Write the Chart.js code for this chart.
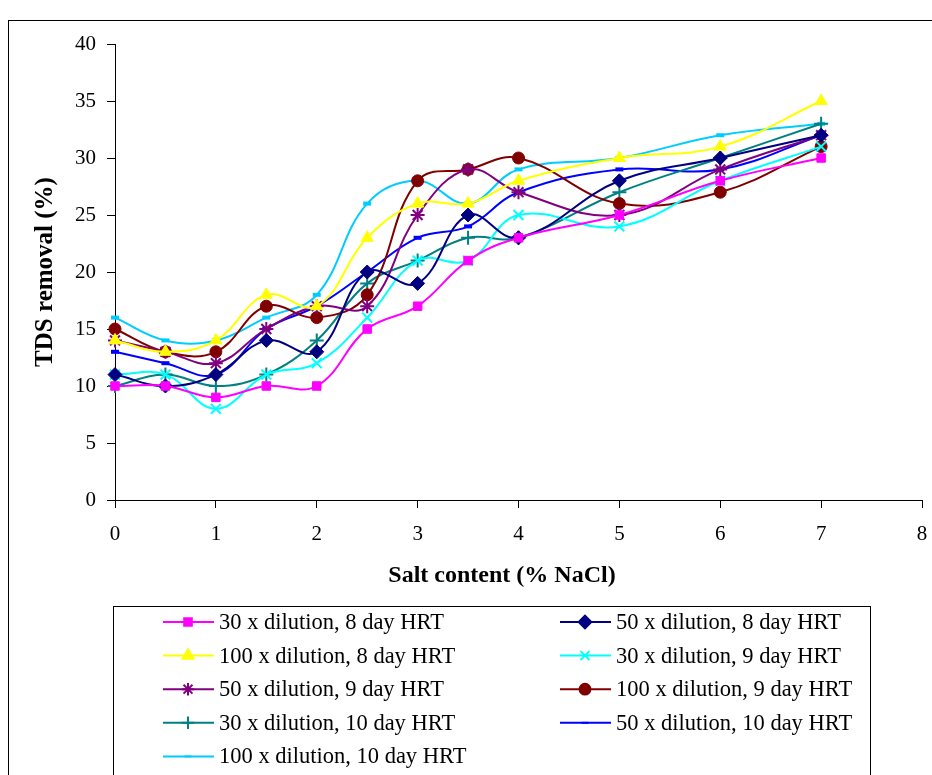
<!DOCTYPE html>
<html>
<head>
<meta charset="utf-8">
<script src="https://cdn.jsdelivr.net/npm/chart.js@4"></script>
<style>
  body { margin: 0; background: #fff; }
  #wrap { width: 932px; height: 775px; position: relative; }
</style>
</head>
<body>
<div id="wrap"><canvas id="tdsChart"></canvas></div>
<script>
// salt content (% NaCl)
var saltContent = [0, 0.5, 1, 1.5, 2, 2.5, 3, 3.5, 4, 5, 6, 7];

// TDS removal (%)
var d30_8 = [10, 10, 9, 10, 10, 15, 17, 21, 23, 25, 28, 30];
var d50_8 = [11, 10, 11, 14, 13, 20, 19, 25, 23, 28, 30, 32];
var d100_8 = [14, 13, 14, 18, 17, 23, 26, 26, 28, 30, 31, 35];
var d30_9 = [11, 11, 8, 11, 12, 16, 21, 21, 25, 24, 28, 31];
var d50_9 = [14, 13, 12, 15, 17, 17, 25, 29, 27, 25, 29, 32];
var d100_9 = [15, 13, 13, 17, 16, 18, 28, 29, 30, 26, 27, 31];
var d30_10 = [10, 11, 10, 11, 14, 19, 21, 23, 23, 27, 30, 33];
var d50_10 = [13, 12, 11, 15, 17, 20, 23, 24, 27, 29, 29, 32];
var d100_10 = [16, 14, 14, 16, 18, 26, 28, 26, 29, 30, 32, 33];

var seriesNames = [
    '30 x dilution, 8 day HRT', '50 x dilution, 8 day HRT',
    '100 x dilution, 8 day HRT', '30 x dilution, 9 day HRT',
    '50 x dilution, 9 day HRT', '100 x dilution, 9 day HRT',
    '30 x dilution, 10 day HRT', '50 x dilution, 10 day HRT',
    '100 x dilution, 10 day HRT'
];
var yTicks = [0, 5, 10, 15, 20, 25, 30, 35, 40];
var xTicks = [0, 1, 2, 3, 4, 5, 6, 7, 8];

var allSeries = [d30_8, d50_8, d100_8, d30_9, d50_9, d100_9, d30_10, d50_10, d100_10];
var colors = ['#FF00FF', '#000080', '#FFFF00', '#00FFFF', '#800080', '#800000', '#008080', '#0000FF', '#00CCFF'];
var styles = ['rect', 'rectRot', 'triangle', 'crossRot', 'star', 'circle', 'cross', 'line', 'line'];
var radii = [6, 7, 7, 7, 7, 6, 7, 4, 4];
var pointBorder = [1, 1, 1, 2, 2, 1, 2, 4, 4];

var serif = '"Liberation Serif", "Times New Roman", serif';

function toPoints(arr) {
    var pts = [];
    for (var i = 0; i < arr.length; i++) {
        pts.push({ x: saltContent[i], y: arr[i] });
    }
    return pts;
}

var datasets = [];
for (var i = 0; i < allSeries.length; i++) {
    datasets.push({
        label: seriesNames[i],
        data: toPoints(allSeries[i]),
        borderColor: colors[i],
        backgroundColor: colors[i],
        borderWidth: 2,
        tension: 0.4,
        pointStyle: styles[i],
        pointRadius: radii[i],
        pointBorderWidth: pointBorder[i],
        pointBorderColor: colors[i],
        pointBackgroundColor: colors[i],
        clip: false
    });
}

// outer frame + x axis title
var framePlugin = {
    id: 'frame',
    beforeDraw: function (chart) {
        var ctx = chart.ctx;
        ctx.save();
        ctx.strokeStyle = '#000';
        ctx.lineWidth = 1;
        ctx.strokeRect(8.5, 20.5, 940, 800);
        ctx.restore();
    },
    afterDraw: function (chart) {
        var ctx = chart.ctx;
        ctx.save();
        ctx.fillStyle = '#000';
        ctx.font = 'bold 24px ' + serif;
        ctx.textAlign = 'center';
        ctx.textBaseline = 'middle';
        ctx.fillText('Salt content (% NaCl)', 502, 576);
        ctx.restore();
    }
};

// two column legend in a box under the chart
var legendBox = {
    id: 'legendBox',
    afterDraw: function (chart) {
        var ctx = chart.ctx;
        ctx.save();
        ctx.strokeStyle = '#000';
        ctx.lineWidth = 1;
        ctx.strokeRect(113.5, 606.5, 757, 200);
        ctx.font = '22.5px ' + serif;
        ctx.textBaseline = 'middle';
        chart.data.datasets.forEach(function (ds, i) {
            var col = i % 2;
            var row = Math.floor(i / 2);
            var x0 = col === 0 ? 163 : 560;
            var y = 622 + row * 33.6;
            ctx.strokeStyle = ds.borderColor;
            ctx.fillStyle = ds.borderColor;
            ctx.lineWidth = 2;
            ctx.beginPath();
            ctx.moveTo(x0, y);
            ctx.lineTo(x0 + 51, y);
            ctx.stroke();
            Chart.helpers.drawPoint(ctx, {
                pointStyle: ds.pointStyle,
                radius: ds.pointRadius * 0.9,
                rotation: 0,
                borderWidth: ds.pointBorderWidth
            }, x0 + 25, y);
            ctx.fillStyle = '#000';
            ctx.fillText(ds.label, x0 + 56, y + 1);
        });
        ctx.restore();
    }
};

var ctx = document.getElementById('tdsChart');
var tdsChart = new Chart(ctx, {
    type: 'line',
    data: { datasets: datasets },
    plugins: [framePlugin, legendBox],
    options: {
        responsive: true,
        maintainAspectRatio: false,
        animation: false,
        layout: { padding: { left: 0, top: 44, right: 10, bottom: 175 } },
        plugins: {
            legend: { display: false },
            tooltip: { enabled: false }
        },
        scales: {
            x: {
                type: 'linear',
                min: 0,
                max: 8,
                afterFit: function (scale) {
                    scale.height = 100;
                    scale.paddingLeft = 0;
                    scale.paddingRight = 0;
                },
                afterBuildTicks: function (scale) {
                    scale.ticks = xTicks.map(function (v) { return { value: v }; });
                },
                grid: { drawOnChartArea: false, drawTicks: true, tickLength: 8, color: '#000' },
                border: { color: '#000', width: 1 },
                ticks: {
                    color: '#000',
                    padding: 14,
                    font: { family: serif, size: 21 }
                }
            },
            y: {
                min: 0,
                max: 40,
                afterFit: function (scale) { scale.width = 115; },
                afterBuildTicks: function (scale) {
                    scale.ticks = yTicks.map(function (v) { return { value: v }; });
                },
                grid: { drawOnChartArea: false, drawTicks: true, tickLength: 8, color: '#000' },
                border: { color: '#000', width: 1 },
                ticks: {
                    color: '#000',
                    padding: 11,
                    font: { family: serif, size: 21 }
                },
                title: {
                    display: true,
                    text: 'TDS removal (%)',
                    color: '#000',
                    padding: { top: 31, bottom: 0 },
                    font: { family: serif, size: 25, weight: 'bold' }
                }
            }
        }
    }
});
</script>
</body>
</html>
